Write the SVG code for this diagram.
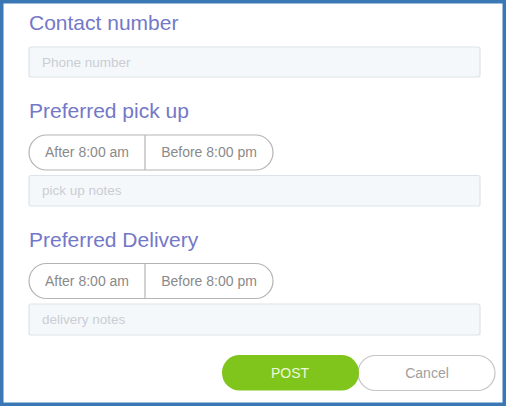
<svg xmlns="http://www.w3.org/2000/svg" width="506" height="406" viewBox="0 0 506 406">
<style>
.h{font-family:"Liberation Sans",Arial,sans-serif;font-size:21px;fill:#7378c8}
.inp{fill:#f5f8fb;stroke:#dde3e8;stroke-width:1.2}
.ph{font-family:"Liberation Sans",Arial,sans-serif;font-size:13.5px;fill:#c9ced3}
.tg{fill:#fff;stroke:#b4b4b4;stroke-width:1.2}
.tt{font-family:"Liberation Sans",Arial,sans-serif;font-size:14px;fill:#8a8a8a;text-anchor:middle}
</style>
<rect x="1.75" y="1.75" width="502.5" height="402.5" fill="#fff" stroke="#3a78b5" stroke-width="3.5"/>
<g id="contact">
<text class="h" x="29" y="30">Contact number</text>
<rect class="inp" x="29" y="47" width="451" height="30" rx="2"/>
<text class="ph" x="42" y="67">Phone number</text>
</g>
<g id="pickup">
<text class="h" x="29" y="118">Preferred pick up</text>
<rect class="tg" x="29" y="135" width="244" height="35" rx="17.5"/>
<line x1="145" y1="135" x2="145" y2="170" stroke="#b4b4b4" stroke-width="1.2"/>
<text class="tt" x="87" y="157">After 8:00 am</text>
<text class="tt" x="209" y="157">Before 8:00 pm</text>
<rect class="inp" x="29" y="175.5" width="451" height="30.5" rx="2"/>
<text class="ph" x="42" y="195">pick up notes</text>
</g>
<g id="delivery">
<text class="h" x="29" y="247">Preferred Delivery</text>
<rect class="tg" x="29" y="263.5" width="244" height="35" rx="17.5"/>
<line x1="145" y1="263.5" x2="145" y2="298.5" stroke="#b4b4b4" stroke-width="1.2"/>
<text class="tt" x="87" y="286">After 8:00 am</text>
<text class="tt" x="209" y="286">Before 8:00 pm</text>
<rect class="inp" x="29" y="304" width="451" height="31" rx="2"/>
<text class="ph" x="42" y="324">delivery notes</text>
</g>
<g id="cancel">
<rect x="358" y="355.5" width="137" height="35" rx="17.5" fill="#fff" stroke="#c4c4c4" stroke-width="1.2"/>
<text class="tt" x="427" y="378" style="fill:#a0a0a0">Cancel</text>
</g>
<g id="post">
<rect x="222" y="355" width="137" height="35.5" rx="17.5" fill="#80c51c"/>
<text class="tt" x="290" y="378" style="fill:#eef8d8">POST</text>
</g>
<g id="connectors"/>
</svg>
